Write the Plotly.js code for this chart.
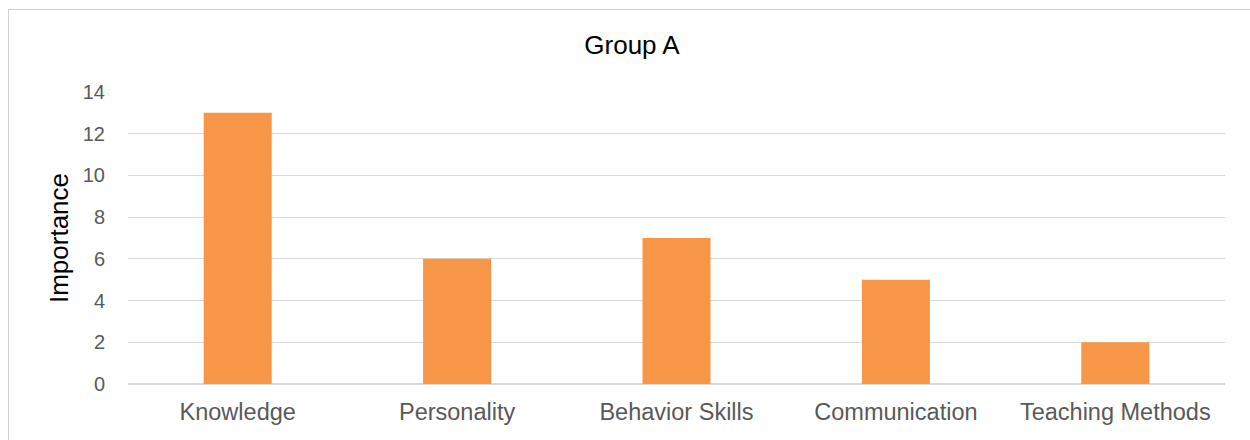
<!DOCTYPE html>
<html>
<head>
<meta charset="utf-8">
<script src="https://cdn.plot.ly/plotly-3.0.1.min.js"></script>
<style>
html,body{margin:0;padding:0;background:#fff;overflow:hidden;}
#chart{width:1250px;height:440px;}
#frame{position:absolute;left:8px;top:9px;width:1300px;height:500px;border:1.5px solid #d0d0d0;pointer-events:none;}
</style>
</head>
<body>
<div id="chart"></div>
<div id="frame"></div>
<script>
const categories = ["Knowledge", "Personality", "Behavior Skills", "Communication", "Teaching Methods"];
const values = [13, 6, 7, 5, 2];
const yTicks = [0, 2, 4, 6, 8, 10, 12, 14];

const font = "Liberation Sans, Arial, sans-serif";
Plotly.newPlot("chart", [{
  type: "bar",
  x: categories,
  y: values,
  marker: {color: "#f79646"},
  hoverinfo: "x+y"
}], {
  width: 1250, height: 440,
  margin: {l: 128, r: 25, t: 92, b: 56},
  paper_bgcolor: "#fff", plot_bgcolor: "#fff",
  bargap: 0.69,
  showlegend: false,
  title: {text: "Group A", font: {family: font, size: 26, color: "#000"}, x: 0.5056, xanchor: "center", y: 0.898, yanchor: "middle"},
  xaxis: {
    showgrid: false, showline: false, zeroline: false, ticks: "",
    tickfont: {family: font, size: 23.5, color: "#595959"},
    ticklabelstandoff: 11
  },
  yaxis: {
    range: [0, 14], tickvals: yTicks, ticktext: yTicks.map(String),
    showgrid: true, gridcolor: "#d9d9d9", gridwidth: 1.2,
    zeroline: true, zerolinecolor: "#d9d9d9", zerolinewidth: 1.2,
    showline: false, ticks: "",
    tickfont: {family: font, size: 20, color: "#595959"},
    ticklabelstandoff: 22,
    title: {text: "Importance", font: {family: font, size: 26, color: "#000"}, standoff: 6}
  }
}, {displayModeBar: false, staticPlot: true});
</script>
</body>
</html>
